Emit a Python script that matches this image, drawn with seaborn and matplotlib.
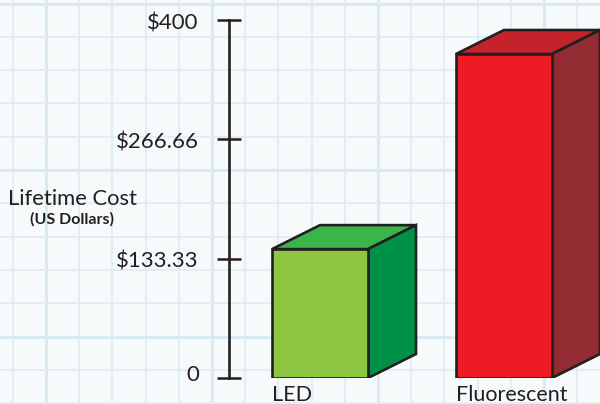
import numpy as np
import pandas as pd
import matplotlib
matplotlib.use("Agg")
import matplotlib.pyplot as plt
from matplotlib.patches import Polygon
from matplotlib.transforms import ScaledTranslation
import seaborn as sns

categories = ["LED", "Fluorescent"]
costs = [144, 362]
front_colors = ["#8DC63F", "#ED1C24"]
top_colors = ["#39B54A", "#C4232B"]
side_colors = ["#009148", "#922C32"]
y_ticks = [0, 133.33, 266.66, 400]
y_labels = ["0", "$133.33", "$266.66", "$400"]

sns.set_theme(style="white")
plt.rcParams["font.family"] = ["Lato", "DejaVu Sans"]
INK = "#231F20"
PAPER = "#F7FAFB"
W, H = 600, 404
fig = plt.figure(figsize=(W / 100, H / 100), dpi=100, facecolor=PAPER)

# graph paper background
bg = fig.add_axes([0, 0, 1, 1], zorder=0)
bg.set_xlim(0, W)
bg.set_ylim(H, 0)
bg.set_facecolor(PAPER)
bg.set_xticks(np.arange(46, W, 166))
bg.set_yticks(np.arange(3.5, H, 166.5))
bg.set_xticks(np.arange(12.8, W, 33.2), minor=True)
bg.set_yticks(np.arange(3.5, H, 33.3), minor=True)
bg.grid(True, which="major", color="#D8EBF2", lw=2.2)
bg.grid(True, which="minor", color="#DDEEF4", lw=1.3)
bg.tick_params(which="both", length=0, labelbottom=False, labelleft=False)
sns.despine(ax=bg, left=True, bottom=True)

# chart axes, y: 0 at 378 px and 400 at 20 px from the top
ax = fig.add_axes([229 / W, 1 - 378 / H, (W - 229) / W, 358 / H], zorder=2)
ax.patch.set_alpha(0)
df = pd.DataFrame({"category": categories, "cost": costs})
sns.barplot(data=df, x="category", y="cost", hue="category",
            palette=front_colors, legend=False, width=96 / 184,
            edgecolor=INK, linewidth=1.9, saturation=1, ax=ax, zorder=3)
ax.set_xlim(-91 / 184, 1 + 96 / 184)
ax.set_ylim(0, 400)
ax.set_xlabel("")
ax.set_ylabel("")

depth_x = 48 / 184
depth_y = 24 / 358 * 400
for bar, top_c, side_c in zip(ax.patches, top_colors, side_colors):
    x0, w, h = bar.get_x(), bar.get_width(), bar.get_height()
    x1 = x0 + w
    ax.add_patch(Polygon([(x0, h), (x1, h), (x1 + depth_x, h + depth_y), (x0 + depth_x, h + depth_y)],
                         closed=True, fc=top_c, ec=INK, lw=1.9, joinstyle="miter", zorder=2.5))
    ax.add_patch(Polygon([(x1, 0), (x1 + depth_x, depth_y), (x1 + depth_x, h + depth_y), (x1, h)],
                         closed=True, fc=side_c, ec=INK, lw=1.9, joinstyle="miter", zorder=2.5))

for s in ["top", "right", "bottom"]:
    ax.spines[s].set_visible(False)
ax.spines["left"].set_color(INK)
ax.spines["left"].set_linewidth(1.9)

ax.set_yticks(y_ticks)
ax.set_yticklabels(y_labels, fontsize=16, color=INK)
ax.tick_params(axis="y", direction="inout", length=17.3, width=1.8, color=INK, pad=13, left=True)
for lab, val in zip(ax.get_yticklabels(), y_ticks):
    dy = 5 if val == 0 else -1
    lab.set_transform(lab.get_transform() + ScaledTranslation(0, dy / 100, fig.dpi_scale_trans))

ax.set_xticks(range(len(categories)))
ax.set_xticklabels(categories, fontsize=15.5, color=INK, ha="left", va="top")
ax.tick_params(axis="x", length=0, pad=5)
for lab in ax.get_xticklabels():
    lab.set_transform(lab.get_transform() + ScaledTranslation(-48.5 / 100, 0, fig.dpi_scale_trans))

fig.text(72 / W, 1 - 199 / H, "Lifetime Cost", fontsize=15.8, color=INK, ha="center", va="center", zorder=3)
fig.text(72 / W, 1 - 219 / H, "(US Dollars)", fontsize=11.5, color=INK, fontweight="bold",
         ha="center", va="center", zorder=3)

fig.savefig("out.png", dpi=100, facecolor=fig.get_facecolor())
